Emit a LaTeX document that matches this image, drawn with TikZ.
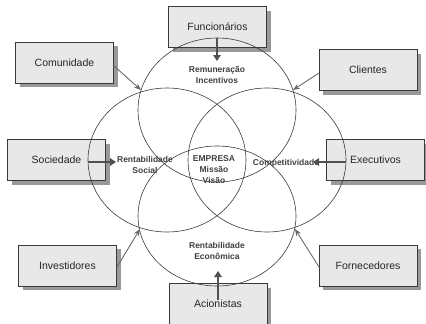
\documentclass[tikz,border=0pt]{standalone}
\usepackage{fontspec}
\setmainfont{Liberation Sans}
\usetikzlibrary{shadows,arrows.meta}
\definecolor{boxfill}{HTML}{E8E8E8}
\definecolor{boxline}{HTML}{3A3A3A}
\definecolor{shadowgray}{HTML}{999999}
\definecolor{ringline}{HTML}{3A3A3A}
\definecolor{arrowgray}{HTML}{6A6A6A}
\definecolor{arrowdark}{HTML}{505050}
\begin{document}
\begin{tikzpicture}[x=1pt,y=-1pt,
  party/.style={draw=boxline, line width=0.8pt, fill=boxfill, minimum width=98pt, minimum height=41pt, inner sep=0pt,
    font=\fontsize{10.5}{12}\selectfont, text=black!85,
    drop shadow={shadow xshift=4pt, shadow yshift=-4pt, fill=shadowgray, opacity=1}},
  ring/.style={draw=ringline, line width=0.6pt},
  inlabel/.style={font=\bfseries\fontsize{8.5}{11}\selectfont, align=center, text=black!75, inner sep=0pt},
  minorarrow/.style={draw=arrowgray, line width=0.9pt, -{Stealth[length=7pt,width=5.5pt]}},
  majorarrow/.style={draw=arrowdark, line width=2.2pt, -{Triangle[length=6pt,width=7.5pt]}}
]
\useasboundingbox (0,0) rectangle (426,324);

% boxes
\node[party] (fun) at (217.5,27) {Funcionários};
\node[party] (com) at (64.5,62.5) {Comunidade};
\node[party] (cli) at (368,70) {Clientes};
\node[party] (soc) at (56.5,160) {Sociedade};
\node[party] (exe) at (375.5,160) {Executivos};
\node[party] (inv) at (67.5,265.5) {Investidores};
\node[party] (for) at (368,265.5) {Fornecedores};
\node[party] (aci) at (218,304) {Acionistas};

% rings
\draw[ring] (217,110) ellipse [x radius=79pt, y radius=72pt];
\draw[ring] (217,216) ellipse [x radius=79pt, y radius=70pt];
\draw[ring] (167,160) ellipse [x radius=79pt, y radius=72pt];
\draw[ring] (267,160) ellipse [x radius=79pt, y radius=72pt];

% inner labels
\node[inlabel] (rem) at (217,75) {Remuneração\\Incentivos};
\node[inlabel] (rso) at (145,165) {Rentabilidade\\Social};
\node[inlabel] (emp) at (214,170) {EMPRESA\\Missão\\Visão};
\node[inlabel] (cmp) at (286,163) {Competitividade};
\node[inlabel] (rec) at (217,250.5) {Rentabilidade\\Econômica};

% connector end points
\coordinate (ttop) at (217,38);
\coordinate (ttip) at (217,61);
\coordinate (btail) at (218,300);
\coordinate (btip) at (218,271);
\coordinate (ltail) at (88,162);
\coordinate (ltip) at (116,162);
\coordinate (rtail) at (346,162);
\coordinate (rtip) at (313,162);
\coordinate (ul) at (141,90);
\coordinate (ur) at (293,90);
\coordinate (ll) at (140,229);
\coordinate (lr) at (295,229);
\coordinate (comout) at (113,65);
\coordinate (cliout) at (319,73);
\coordinate (invout) at (117,267);
\coordinate (forout) at (319,267);

% arrows
\draw[majorarrow] (ttop) -- (ttip);
\draw[majorarrow] (btail) -- (btip);
\draw[majorarrow] (ltail) -- (ltip);
\draw[majorarrow] (rtail) -- (rtip);
\draw[minorarrow] (comout) -- (ul);
\draw[minorarrow] (cliout) -- (ur);
\draw[minorarrow] (invout) -- (ll);
\draw[minorarrow] (forout) -- (lr);
\end{tikzpicture}
\end{document}
